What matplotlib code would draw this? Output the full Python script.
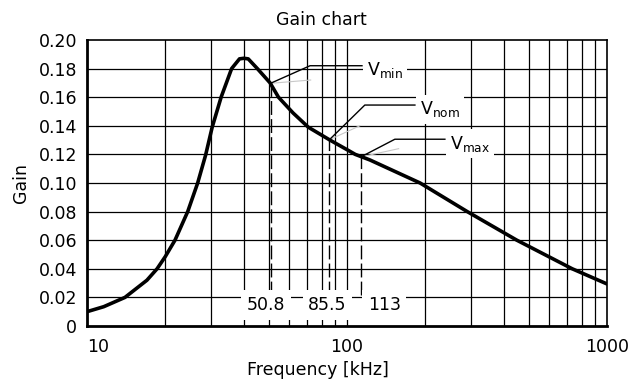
import numpy as np
import matplotlib
matplotlib.use("Agg")
import matplotlib.pyplot as plt
from matplotlib.ticker import FixedLocator, NullFormatter, NullLocator

plt.rcParams['font.family'] = ['DejaVu Sans']
plt.rcParams['mathtext.fontset'] = 'dejavusans'

# gain curve
freq_khz = [10, 11.6, 14.0, 17.0, 18.6, 20, 21.8, 24.4, 26.65, 28.6, 30.3,
            32.8, 36.0, 38.6, 40.1, 41.7, 45.2, 50.6, 54.5, 62, 71.0,
            86.0, 100, 107.6, 122.5, 191, 290, 450, 735, 1000]
gain = [0.010, 0.0135, 0.020, 0.032, 0.040, 0.0485, 0.060, 0.080, 0.100,
        0.1196, 0.139, 0.160, 0.180, 0.1868, 0.1872, 0.1868, 0.180, 0.170,
        0.160, 0.149, 0.139, 0.130, 0.1233, 0.120, 0.1161, 0.100, 0.080,
        0.060, 0.040, 0.0294]

# operating points
op_names = ['min', 'nom', 'max']
op_freq = [50.8, 85.5, 113]
op_gain = [0.1697, 0.1302, 0.1182]

x_ticks = [10, 100, 1000]
y_ticks = [0, 0.02, 0.04, 0.06, 0.08, 0.10, 0.12, 0.14, 0.16, 0.18, 0.20]
y_labels = ['0', '0.02', '0.04', '0.06', '0.08', '0.10', '0.12', '0.14',
            '0.16', '0.18', '0.20']

FS = 12.5


def main():
    fig = plt.figure(figsize=(6.43, 3.92), dpi=100)
    ax = fig.add_axes([0.1353, 0.1684, 0.8087, 0.7296])
    ax.set_xscale('log')
    ax.set_xlim(10, 1000)
    ax.set_ylim(0, 0.2)

    # grid at every 1-2-...-9 decade step
    grid_x = [m * 10 ** d for d in (1, 2) for m in range(2, 10)] + [100]
    for gx in grid_x:
        ax.axvline(gx, color='black', lw=0.9, zorder=1)
    for gy in y_ticks[1:-1]:
        ax.axhline(gy, color='black', lw=0.9, zorder=1)

    ax.plot(freq_khz, gain, color='black', lw=2.6, solid_capstyle='round',
            solid_joinstyle='round', zorder=5)

    # leader lines and labels for Vmin / Vnom / Vmax
    knee = [(72.1, 0.182), (117.1, 0.1545), (152.8, 0.1306)]
    end_x = [114.2, 182.5, 238]
    grey_end = [(72.5, 0.172), (112, 0.140), (158, 0.124)]
    for name, f, g, (kx, ky), ex, (gx, gy) in zip(op_names, op_freq, op_gain,
                                                  knee, end_x, grey_end):
        ax.plot([f, gx], [g, gy], color='#c8c8c8', lw=0.8, zorder=4)
        ax.plot([f, kx, ex], [g, ky, ky], color='black', lw=1.0, zorder=6)
        ax.text(ex * 1.045, ky - 0.003, 'V$_{\\mathrm{%s}}$' % name,
                fontsize=FS, ha='left', va='center', zorder=7,
                bbox=dict(facecolor='white', edgecolor='none', pad=3))
        ax.plot([f, f], [0.022, g], color='black', lw=1.0,
                linestyle=(0, (10, 3)), zorder=3)

    # frequency values along the bottom
    label_x = [48.8, 84.2, 139]
    for f, lx in zip(op_freq, label_x):
        ax.text(lx, 0.0147, '%g' % f, fontsize=FS, ha='center', va='center',
                zorder=7, bbox=dict(facecolor='white', edgecolor='none',
                                    pad=4))

    ax.xaxis.set_major_locator(FixedLocator(x_ticks))
    ax.xaxis.set_minor_locator(NullLocator())
    ax.xaxis.set_minor_formatter(NullFormatter())
    ax.set_xticklabels([str(v) for v in x_ticks])
    ax.set_yticks(y_ticks)
    ax.set_yticklabels(y_labels)
    ax.tick_params(axis='both', length=0, labelsize=FS)
    ax.tick_params(axis='x', pad=9)
    ax.tick_params(axis='y', pad=7)
    ax.get_xticklabels()[0].set_ha('left')

    for side in ('left', 'bottom'):
        ax.spines[side].set_linewidth(2.0)
    for side in ('top', 'right'):
        ax.spines[side].set_linewidth(1.2)
    for s in ax.spines.values():
        s.set_zorder(8)

    fig.text(0.5, 0.949, 'Gain chart', fontsize=FS, ha='center', va='center')
    fig.text(0.495, 0.056, 'Frequency [kHz]', fontsize=FS, ha='center',
             va='center')
    ax.set_ylabel('Gain', fontsize=FS, labelpad=6)

    fig.savefig('out.png', dpi=100)


if __name__ == '__main__':
    main()
